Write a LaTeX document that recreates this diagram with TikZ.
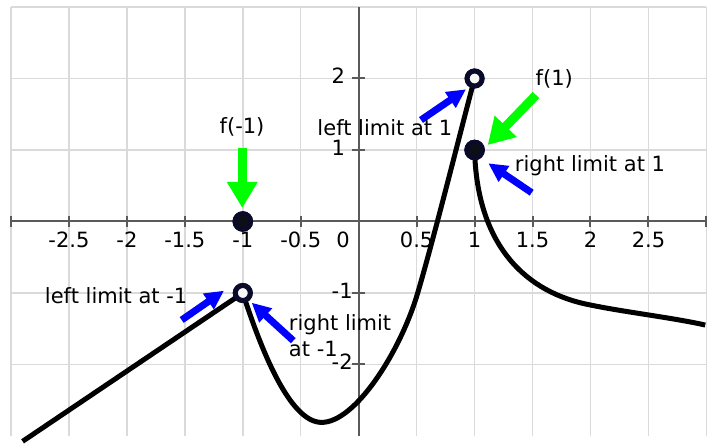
\documentclass[tikz,border=0pt]{standalone}
\usepackage{fontspec}
\setmainfont{DejaVu Sans}
\usetikzlibrary{arrows.meta}
\definecolor{gridc}{RGB}{218,218,218}
\definecolor{axisc}{RGB}{90,90,90}
\definecolor{dotc}{RGB}{10,10,42}
\definecolor{dotfill}{RGB}{14,14,22}
\definecolor{arrgreen}{RGB}{0,255,0}
\definecolor{arrblue}{RGB}{0,0,255}
\begin{document}
\begin{tikzpicture}[x=115.9pt,y=71.5pt,
  gridline/.style={draw=gridc,line width=1.5pt},
  axisline/.style={draw=axisc,line width=2pt},
  curve/.style={draw=black,line width=5pt,line join=round},
  ticklbl/.style={font=\fontsize{21pt}{26pt}\selectfont,inner sep=0pt,text=black},
  lbl/.style={font=\fontsize{21pt}{26pt}\selectfont,inner sep=0pt,anchor=base west,text=black},
  opendot/.style={circle,draw=dotc,line width=5pt,fill=white!97!black,minimum size=15pt,inner sep=0pt},
  filldot/.style={circle,draw=dotc,line width=4pt,fill=dotfill,minimum size=16.5pt,inner sep=0pt},
  greenarrow/.style={draw=arrgreen,line width=9pt,-{Triangle[length=26pt,width=29pt]}},
  bluearrow/.style={draw=arrblue,line width=7pt,-{Triangle[length=19pt,width=18pt]}}]
% pixel frame
\begin{scope}[x=1pt,y=-1pt,shift={(-358.7pt,221.5pt)}]
  \useasboundingbox (0,0) rectangle (713,432);
\end{scope}
% grid
\foreach \v in {-3,-2.5,...,3.01}
  \draw[gridline] (\v,3) -- (\v,-3);
\foreach \v in {-2,-1,0,1,2,3}
  \draw[gridline] (-3,\v) -- (3,\v);
% axes
\draw[axisline] (-3,0) -- (3,0);
\draw[axisline] (0,3) -- (0,-3);
\foreach \v in {-3,-2.5,-2,-1.5,-1,-0.5,0.5,1,1.5,2,2.5,3}
  \draw[axisline] (\v,0) ++(0,5.5pt) -- ++(0,-11pt);
\foreach \v in {-2,-1,1,2}
  \draw[axisline] (0,\v) ++(-6.5pt,0) -- ++(12.5pt,0);
% tick labels
\foreach \v [count=\i] in {-2.5,-2,-1.5,-1,-0.5,0.5,1,1.5,2,2.5}
  \node[ticklbl,anchor=base] (xl\i) at (\v,0) [yshift=-26.5pt] {\v};
\node[ticklbl,anchor=base] (xl0) at (0,0) [xshift=-15.7pt,yshift=-26.5pt] {0};
\foreach \v [count=\i] in {2,1,-1,-2}
  \node[ticklbl,anchor=base west] (yl\i) at (0,\v) [xshift=-27.2pt,yshift=-5.5pt] {\v};
% dots (positions)
\node[opendot] (pA) at (-1,-1) {};
\node[filldot] (pB) at (-1,0) {};
\node[opendot] (pC) at (1,2) {};
\node[filldot] (pD) at (1,1) {};
% curves
\begin{scope}
  \begin{scope}[x=1pt,y=-1pt,shift={(-358.7pt,221.5pt)}]
    \clip (0,0) rectangle (713,432);
  \end{scope}
  \coordinate (lstart) at (-2.9,-3.075);
  \draw[curve] (lstart) -- (pA.center);
  \draw[curve] (pA.center) .. controls (-0.85,-1.75) and (-0.6,-2.81) .. (-0.32,-2.81)
     .. controls (-0.03,-2.81) and (0.359,-1.825) .. (0.509,-1.0)
     .. controls (0.659,-0.175) and (0.9,1.4) .. (pC.center);
  \draw[curve] (pD.center) .. controls (1.02,-0.35) and (1.45,-1.0) .. (2,-1.168)
     .. controls (2.3,-1.269) and (2.7,-1.343) .. (2.99,-1.448);
\end{scope}
% dots drawn over curves
\node[opendot] at (pA) {};
\node[filldot] at (pB) {};
\node[opendot] at (pC) {};
\node[filldot] at (pD) {};
% annotations in pixel frame
\begin{scope}[x=1pt,y=-1pt,shift={(-358.7pt,221.5pt)}]
  \coordinate (g1t) at (242.3,148);   \coordinate (g1h) at (242.3,208);
  \coordinate (g2t) at (536,95);      \coordinate (g2h) at (487.7,145);
  \coordinate (b1t) at (421,120);     \coordinate (b1h) at (466,89.3);
  \coordinate (b2t) at (531.7,192.7); \coordinate (b2h) at (488.3,163.3);
  \coordinate (b3t) at (181.7,320);   \coordinate (b3h) at (224,290.7);
  \coordinate (b4t) at (293.3,340.7); \coordinate (b4h) at (251.7,302.7);
  \draw[greenarrow] (g1t) -- (g1h);
  \draw[greenarrow] (g2t) -- (g2h);
  \draw[bluearrow] (b1t) -- (b1h);
  \draw[bluearrow] (b2t) -- (b2h);
  \draw[bluearrow] (b3t) -- (b3h);
  \draw[bluearrow] (b4t) -- (b4h);
  \node[lbl] (tfm1) at (219.5,134) {f(-1)};
  \node[lbl] (tll1) at (317.3,136) {left limit at 1};
  \node[lbl] (tf1) at (535.5,86) {f(1)};
  \node[lbl] (trl1) at (514.8,171.7) {right limit at 1};
  \node[lbl] (tllm1) at (44.8,304) {left limit at -1};
  \node[lbl] (trlm1a) at (288.8,330.7) {right limit};
  \node[lbl] (trlm1b) at (288.8,356.7) {at -1};
\end{scope}
\end{tikzpicture}
\end{document}
